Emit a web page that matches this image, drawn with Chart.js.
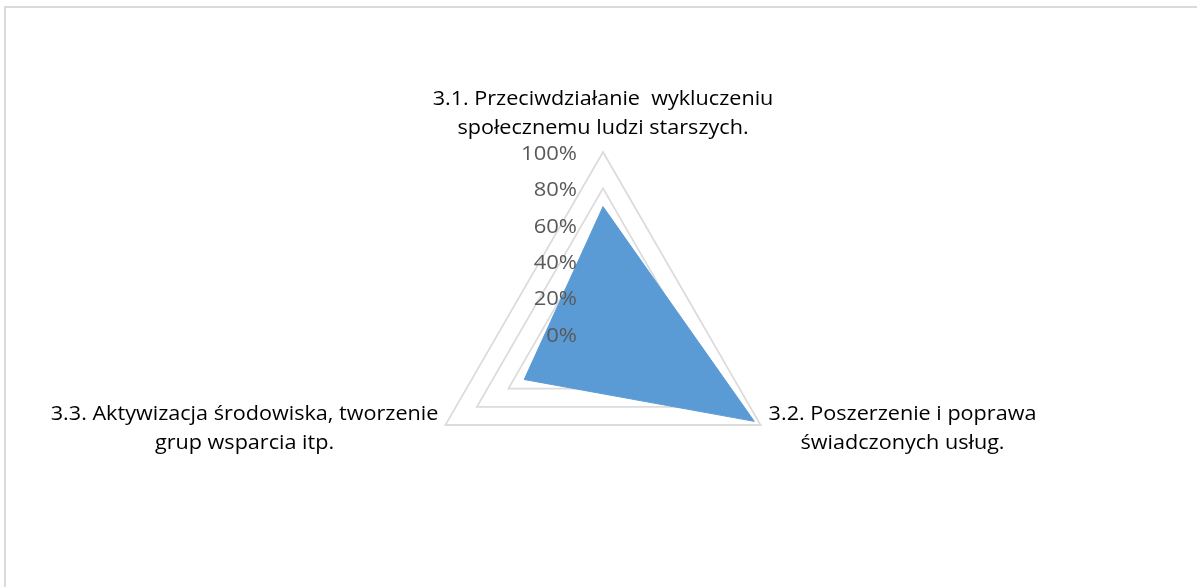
<!DOCTYPE html>
<html>
<head>
<meta charset="utf-8">
<script src="https://cdn.jsdelivr.net/npm/chart.js@4/dist/chart.umd.min.js"></script>
<style>
    html, body { margin: 0; padding: 0; background: #fff; }
    #wrap { position: relative; width: 1197px; height: 587px; overflow: hidden; }
    #frame {
        position: absolute; left: 4px; top: 6px; right: -10px; bottom: -10px;
        border-top: 2px solid #dadada; border-left: 2px solid #dadada;
    }
    #radar { position: absolute; left: 0; top: 0; }
</style>
</head>
<body>
<div id="wrap">
    <div id="frame"></div>
    <canvas id="radar" width="1197" height="587"></canvas>
</div>
<script>
// Data
const categories = [
    ["3.1. Przeciwdziałanie  wykluczeniu", "społecznemu ludzi starszych."],
    ["3.2. Poszerzenie i poprawa", "świadczonych usług."],
    ["3.3. Aktywizacja środowiska, tworzenie", "grup wsparcia itp."]
];
const values = [0.70, 0.96, 0.50];
const tickValues = [0, 0.2, 0.4, 0.6, 0.8, 1];
const tickLabels = ["0%", "20%", "40%", "60%", "80%", "100%"];

const LABEL_FONT = '20px "Open Sans"';
const LABEL_STRETCH = 1.08;
const TICK_FONT = '20px "Open Sans"';
const TICK_STRETCH = 1.1;

// draw text stretched horizontally around its anchor
function stretchedText(ctx, text, x, y, sx) {
    ctx.save();
    ctx.translate(x, y);
    ctx.scale(sx, 1);
    ctx.fillText(text, 0, 0);
    ctx.restore();
}

// Draw the tick labels (on top of the fill) and the centred point labels
const labelPlugin = {
    id: 'labelPlugin',
    afterDatasetsDraw(chart) {
        const ctx = chart.ctx;
        const scale = chart.scales.r;
        const cx = scale.xCenter, cy = scale.yCenter;

        ctx.save();
        // ticks: right aligned, left of the vertical axis
        ctx.font = TICK_FONT;
        ctx.fillStyle = '#595959';
        ctx.textAlign = 'right';
        ctx.textBaseline = 'middle';
        tickValues.forEach((v, i) => {
            const d = scale.getDistanceFromCenterForValue(v);
            stretchedText(ctx, tickLabels[i], cx - 26, cy - d + 2, TICK_STRETCH);
        });

        // point labels
        ctx.font = LABEL_FONT;
        ctx.fillStyle = '#000';
        ctx.textBaseline = 'middle';
        ctx.textAlign = 'center';
        const lineH = 29;
        categories.forEach((lines, i) => {
            const p = scale.getPointPosition(i, scale.drawingArea);
            const w = LABEL_STRETCH * Math.max(...lines.map(l => ctx.measureText(l).width));
            let x, y;
            if (i === 0) {
                x = p.x;
                y = p.y - 9 - lineH * (lines.length - 1) - lineH / 2;
            } else if (p.x > cx) {
                x = p.x + 8 + w / 2;
                y = p.y - 11;
            } else {
                x = p.x - 7 - w / 2;
                y = p.y - 11;
            }
            lines.forEach((l, k) => stretchedText(ctx, l, x, y + k * lineH, LABEL_STRETCH));
        });
        ctx.restore();
    }
};

new Chart(document.getElementById('radar'), {
    type: 'radar',
    data: {
        labels: categories,
        datasets: [{
            data: values,
            backgroundColor: '#5b9bd5',
            borderColor: '#5b9bd5',
            borderWidth: 1,
            pointRadius: 0,
            fill: true
        }]
    },
    options: {
        responsive: false,
        animation: false,
        layout: { padding: { top: 152, bottom: 71, left: 100, right: 91 } },
        plugins: { legend: { display: false }, tooltip: { enabled: false } },
        scales: {
            r: {
                min: 0,
                max: 1,
                ticks: { stepSize: 0.2, display: false },
                grid: { color: '#dcdcdc', lineWidth: 1.8 },
                angleLines: { display: false },
                pointLabels: { display: false }
            }
        }
    },
    plugins: [labelPlugin]
});
</script>
</body>
</html>
